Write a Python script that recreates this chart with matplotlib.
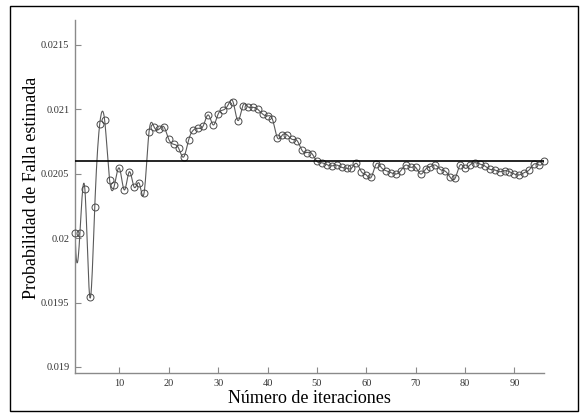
import numpy as np
import matplotlib
matplotlib.use("Agg")
import matplotlib.pyplot as plt
from matplotlib.patches import Rectangle

iterations = list(range(1, 97))
prob_falla = [
    0.020040, 0.020040, 0.020380, 0.019543, 0.020242, 0.020884, 0.020918, 0.020452,
    0.020413, 0.020543, 0.020374, 0.020516, 0.020395, 0.020426, 0.020353, 0.020827,
    0.020865, 0.020845, 0.020865, 0.020767, 0.020729, 0.020698, 0.020630, 0.020760,
    0.020840, 0.020853, 0.020874, 0.020957, 0.020879, 0.020964, 0.020995, 0.021034,
    0.021060, 0.020913, 0.021029, 0.021021, 0.021016, 0.021001, 0.020964, 0.020949,
    0.020923, 0.020780, 0.020801, 0.020801, 0.020767, 0.020757, 0.020681, 0.020665,
    0.020656, 0.020596, 0.020585, 0.020571, 0.020561, 0.020568, 0.020550, 0.020543,
    0.020543, 0.020581, 0.020516, 0.020491, 0.020473, 0.020576, 0.020550, 0.020524,
    0.020509, 0.020498, 0.020524, 0.020568, 0.020550, 0.020550, 0.020498, 0.020535,
    0.020555, 0.020568, 0.020533, 0.020520, 0.020473, 0.020465, 0.020568, 0.020543,
    0.020568, 0.020586, 0.020576, 0.020561, 0.020535, 0.020530, 0.020516, 0.020524,
    0.020516, 0.020498, 0.020491, 0.020509, 0.020530, 0.020576, 0.020568, 0.020602,
]
valor_referencia = 0.0206

x_ticks = [10, 20, 30, 40, 50, 60, 70, 80, 90]
y_ticks = [0.019, 0.0195, 0.02, 0.0205, 0.021, 0.0215]
y_tick_labels = ["0.019", "0.0195", "0.02", "0.0205", "0.021", "0.0215"]


def spline_curve(x, y, per_seg=12):
    """Not-a-knot cubic spline through (x, y), sampled densely for drawing."""
    x = np.asarray(x, float)
    y = np.asarray(y, float)
    n = len(x)
    h = np.diff(x)
    A = np.zeros((n, n))
    b = np.zeros(n)
    # not-a-knot end conditions
    A[0, 0], A[0, 1], A[0, 2] = -h[1], h[0] + h[1], -h[0]
    A[-1, -3], A[-1, -2], A[-1, -1] = -h[-1], h[-2] + h[-1], -h[-2]
    for i in range(1, n - 1):
        A[i, i - 1] = h[i - 1]
        A[i, i] = 2 * (h[i - 1] + h[i])
        A[i, i + 1] = h[i]
        b[i] = 3 * ((y[i + 1] - y[i]) / h[i] - (y[i] - y[i - 1]) / h[i - 1])
    c = np.linalg.solve(A, b)
    xs, ys = [], []
    for i in range(n - 1):
        bi = (y[i + 1] - y[i]) / h[i] - h[i] * (2 * c[i] + c[i + 1]) / 3
        di = (c[i + 1] - c[i]) / (3 * h[i])
        t = np.linspace(0, h[i], per_seg, endpoint=(i == n - 2))
        xs.append(x[i] + t)
        ys.append(y[i] + bi * t + c[i] * t ** 2 + di * t ** 3)
    return np.concatenate(xs), np.concatenate(ys)


plt.rcParams["font.family"] = ["Liberation Serif", "DejaVu Serif"]

fig = plt.figure(figsize=(5.82, 4.13), dpi=100)
fig.patch.set_facecolor("white")
ax = fig.add_axes([75 / 582, 40 / 413, 469 / 582, 353 / 413])

xs, ys = spline_curve(iterations, prob_falla)
ax.plot(xs, ys, color="#5a5a5a", lw=0.8, zorder=2)
ax.plot(iterations, prob_falla, linestyle="none", marker="o", ms=5,
        mfc="none", mec="#4a4a4a", mew=0.7, zorder=3, clip_on=False)
ax.axhline(valor_referencia, color="black", lw=1.2, zorder=4)

ax.set_xlim(1, 96)
ax.set_ylim(0.018953, 0.021694)
ax.set_xticks(x_ticks)
ax.set_xticklabels([str(t) for t in x_ticks])
ax.set_yticks(y_ticks)
ax.set_yticklabels(y_tick_labels)

for side in ("top", "right"):
    ax.spines[side].set_visible(False)
for side in ("left", "bottom"):
    ax.spines[side].set_color("#8a8a8a")
    ax.spines[side].set_linewidth(1.0)

ax.tick_params(direction="in", length=4, width=0.8, color="#8a8a8a",
               labelsize=7.5, labelcolor="#333333", pad=4)

ax.set_xlabel("Número de iteraciones", fontsize=13, labelpad=2)
ax.set_ylabel("Probabilidad de Falla estimada", fontsize=13)
ax.yaxis.set_label_coords(-0.074, 0.525)

fig.patches.append(Rectangle((10 / 582, 2 / 413), 568 / 582, 405 / 413,
                             transform=fig.transFigure, fill=False,
                             edgecolor="black", lw=1.0))

fig.savefig("out.png", dpi=100)
